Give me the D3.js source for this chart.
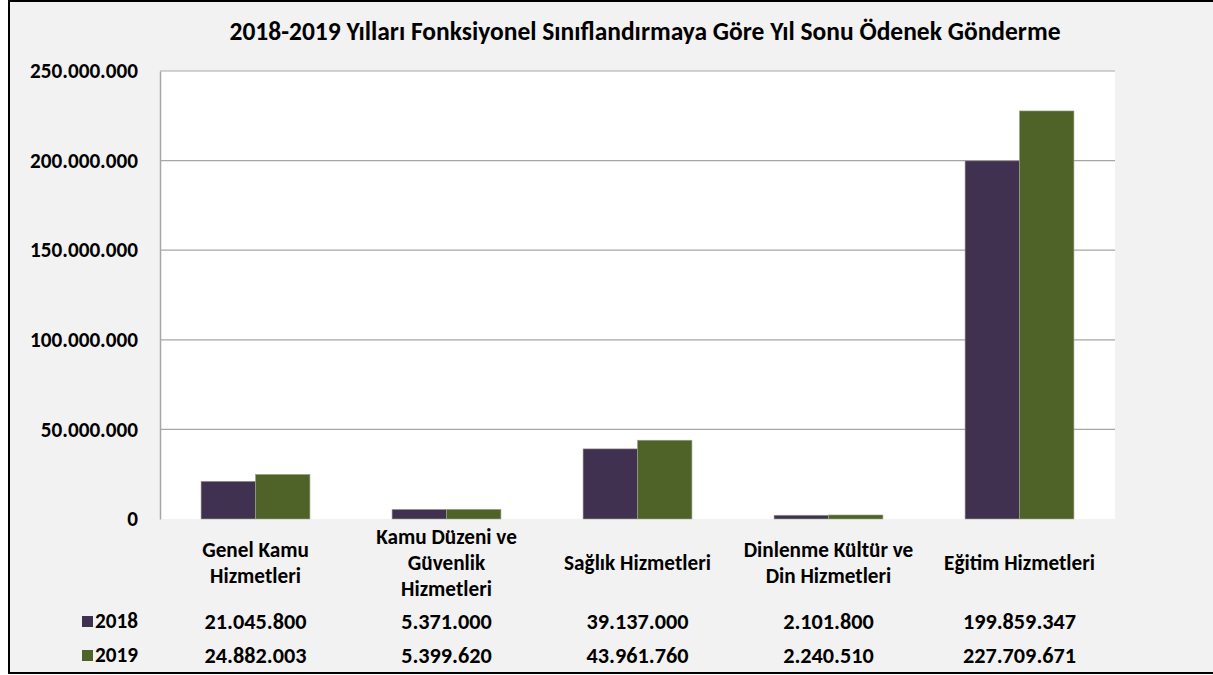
<!DOCTYPE html>
<html><head><meta charset="utf-8">
<script src="https://cdn.jsdelivr.net/npm/d3@7"></script>
<style>
html,body{margin:0;padding:0;background:#fff;}
svg{display:block;font-family:Carlito,Lato,"Liberation Sans",sans-serif;font-weight:bold;}
</style></head>
<body>
<svg id="c" width="1213" height="675"></svg>
<script>
const title = "2018-2019 Yılları Fonksiyonel Sınıflandırmaya Göre Yıl Sonu Ödenek Gönderme";
const categories = [
  ["Genel Kamu","Hizmetleri"],
  ["Kamu Düzeni ve","Güvenlik","Hizmetleri"],
  ["Sağlık Hizmetleri"],
  ["Dinlenme Kültür ve","Din Hizmetleri"],
  ["Eğitim Hizmetleri"]
];
const seriesNames = ["2018","2019"];
const values2018 = [21045800, 5371000, 39137000, 2101800, 199859347];
const values2019 = [24882003, 5399620, 43961760, 2240510, 227709671];
const yTicks = [0, 50000000, 100000000, 150000000, 200000000, 250000000];
const colors = ["#403151","#4f6228"];

const svg = d3.select("#c");
const W = 1213, H = 675;
const fmt = v => d3.format(",")(v).replace(/,/g,".");

function fitSize(str, targetW, base){
  const t = svg.append("text").attr("font-size",base).text(str);
  const w = t.node().getComputedTextLength();
  t.remove();
  return base * targetW / w;
}
const numSize = fitSize("21.045.800", 102, 17);
const axisSize = fitSize("250.000.000", 108, 17);
const labelSize = fitSize("Eğitim Hizmetleri", 151, 17);
const titleSize = fitSize(title, 831, 21);

svg.append("rect").attr("x",9).attr("y",1).attr("width",W+5).attr("height",672)
  .attr("fill","#f2f2f2").attr("stroke","#000").attr("stroke-width",2);

const plot = {l:160, r:1115, t:71, b:519};
svg.append("rect").attr("x",plot.l).attr("y",plot.t).attr("width",plot.r-plot.l).attr("height",plot.b-plot.t)
  .attr("fill","#fff");

const x = d3.scaleBand().domain(d3.range(categories.length)).range([plot.l, plot.r]).paddingInner(0.43).paddingOuter(0.215);
const xs = d3.scaleBand().domain(seriesNames).range([0, x.bandwidth()]);
const y = d3.scaleLinear().domain([0, 250000000]).range([plot.b, plot.t]);

svg.append("g").selectAll("line").data(yTicks.filter(d=>d>0)).join("line")
  .attr("x1",plot.l).attr("x2",plot.r).attr("y1",d=>y(d)).attr("y2",d=>y(d))
  .attr("stroke","#a6a6a6").attr("stroke-width",1.2);

const yAxis = d3.axisLeft(y).tickValues(yTicks).tickFormat(fmt).tickSize(0).tickPadding(22);
const ga = svg.append("g").attr("transform",`translate(${plot.l},0)`).call(yAxis);
ga.attr("font-family",null).attr("font-size",null);
ga.select(".domain").attr("stroke","#a6a6a6").attr("stroke-width",1.5);
ga.selectAll("text").attr("font-weight","bold")
  .attr("font-size",axisSize).attr("fill","#000");

const data = [values2018, values2019];
data.forEach((vals, si) => {
  svg.append("g").selectAll("rect").data(vals).join("rect")
    .attr("x",(d,i)=>x(i)+xs(seriesNames[si]))
    .attr("y",d=>y(d))
    .attr("width",xs.bandwidth())
    .attr("height",d=>plot.b-y(d))
    .attr("fill",colors[si])
    .attr("stroke","#9ea38f").attr("stroke-width",0.6);
});

svg.append("text").attr("x",645).attr("y",31).attr("dy","0.35em").attr("text-anchor","middle")
  .attr("font-size",titleSize).attr("fill","#000").text(title);

const lh = 26;
categories.forEach((lines,i) => {
  const cx = x(i) + x.bandwidth()/2;
  const y0 = 563 - (lines.length-1)*lh/2;
  const t = svg.append("text").attr("text-anchor","middle").attr("font-size",labelSize).attr("fill","#000");
  lines.forEach((ln,k)=>{
    t.append("tspan").attr("x",cx).attr("y",y0+k*lh).attr("dy","0.35em").text(ln);
  });
});

const rowY = [621, 655];
data.forEach((vals, si) => {
  svg.append("rect").attr("x",82).attr("y",rowY[si]-5).attr("width",11).attr("height",11).attr("fill",colors[si]);
  svg.append("text").attr("x",95).attr("y",rowY[si]).attr("dy","0.35em").attr("font-size",labelSize).text(seriesNames[si]);
  svg.append("g").selectAll("text").data(vals).join("text")
    .attr("x",(d,i)=>x(i)+x.bandwidth()/2).attr("y",rowY[si]).attr("dy","0.35em")
    .attr("text-anchor","middle").attr("font-size",numSize).text(d=>fmt(d));
});
</script>
</body></html>
